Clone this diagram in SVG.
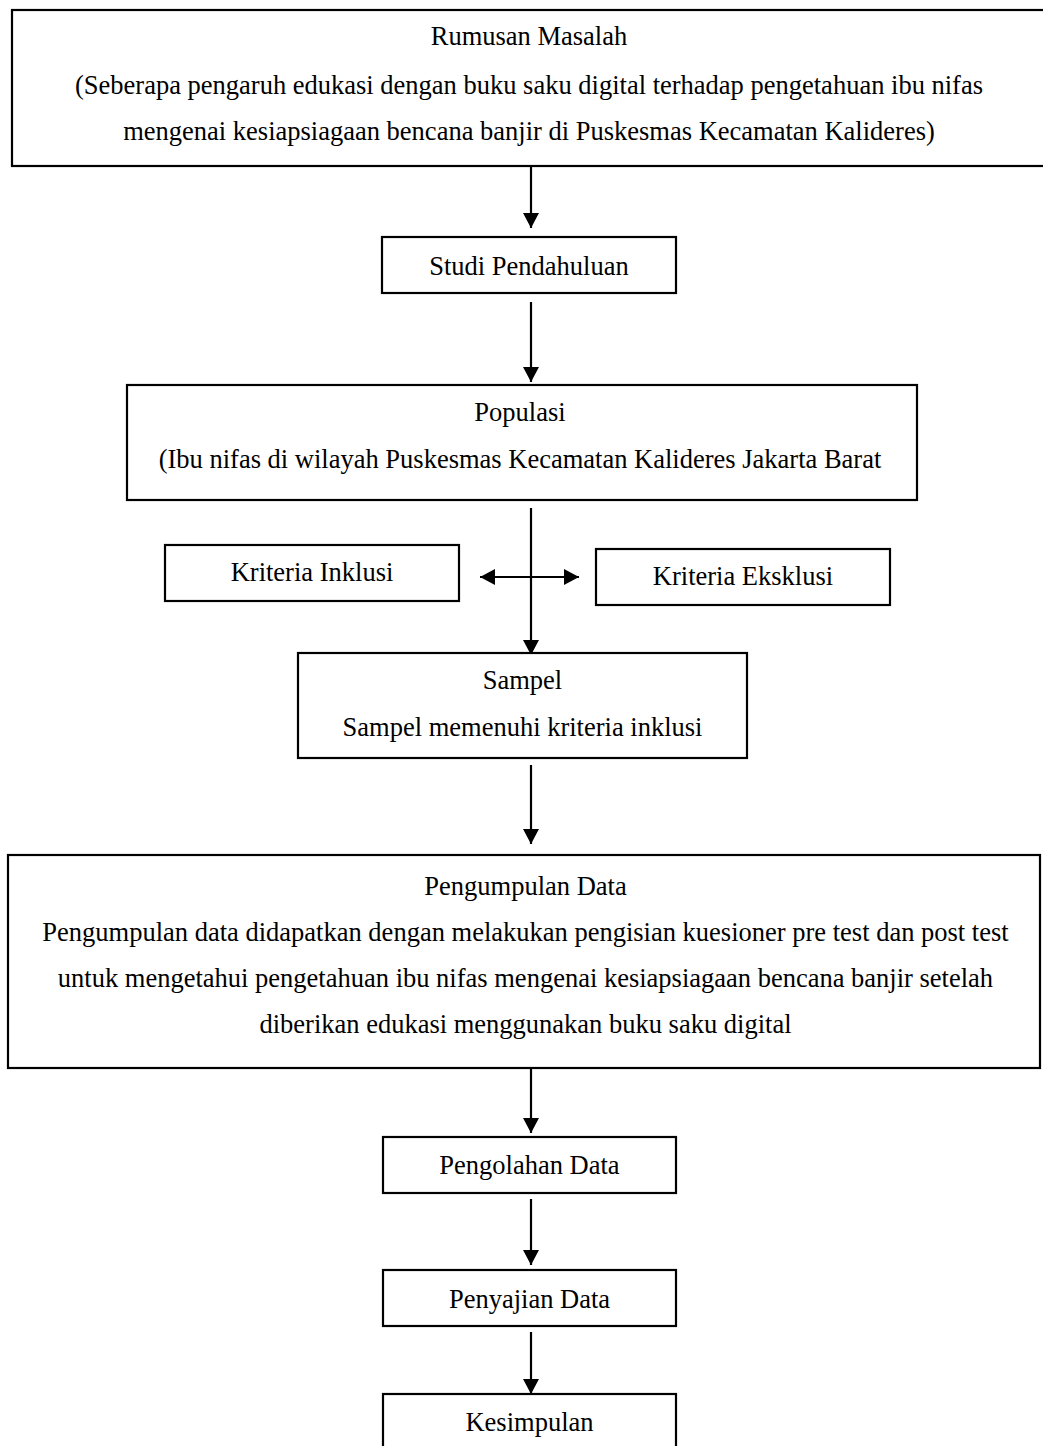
<svg xmlns="http://www.w3.org/2000/svg" width="1043" height="1446" viewBox="0 0 1043 1446">
<defs>
<style>
.box{fill:#fff;stroke:#000;stroke-width:2.2}
.t{font-family:"Liberation Serif","Times New Roman",serif;font-size:26.5px;fill:#000;text-anchor:middle}
.ln{stroke:#000;stroke-width:2.2;fill:none}
</style>
<marker id="ah" markerUnits="userSpaceOnUse" markerWidth="16" markerHeight="16" refX="15" refY="8" orient="auto-start-reverse" viewBox="0 0 16 16">
<path d="M0,0 L15,8 L0,16 Z" fill="#000"/>
</marker>
</defs>
<rect width="1043" height="1446" fill="#fff"/>
<g id="connectors">
<line class="ln" x1="531" y1="167" x2="531" y2="228" marker-end="url(#ah)"/>
<line class="ln" x1="531" y1="302" x2="531" y2="382" marker-end="url(#ah)"/>
<line class="ln" x1="531" y1="508" x2="531" y2="655" marker-end="url(#ah)"/>
<line class="ln" x1="480" y1="577" x2="579" y2="577" marker-start="url(#ah)" marker-end="url(#ah)"/>
<line class="ln" x1="531" y1="765" x2="531" y2="844" marker-end="url(#ah)"/>
<line class="ln" x1="531" y1="1068" x2="531" y2="1133" marker-end="url(#ah)"/>
<line class="ln" x1="531" y1="1199" x2="531" y2="1265" marker-end="url(#ah)"/>
<line class="ln" x1="531" y1="1332" x2="531" y2="1394" marker-end="url(#ah)"/>
</g>
<g id="rumusan">
<rect class="box" x="12" y="10" width="1040" height="156"/>
<text class="t" x="529" y="45">Rumusan Masalah</text>
<text class="t" x="529" y="94">(Seberapa pengaruh edukasi dengan buku saku digital terhadap pengetahuan ibu nifas</text>
<text class="t" x="529" y="140">mengenai kesiapsiagaan bencana banjir di Puskesmas Kecamatan Kalideres)</text>
</g>
<g id="studi">
<rect class="box" x="382" y="237" width="294" height="56"/>
<text class="t" x="529" y="275">Studi Pendahuluan</text>
</g>
<g id="populasi">
<rect class="box" x="127" y="385" width="790" height="115"/>
<text class="t" x="520" y="421">Populasi</text>
<text class="t" x="520" y="468">(Ibu nifas di wilayah Puskesmas Kecamatan Kalideres Jakarta Barat</text>
</g>
<g id="inklusi">
<rect class="box" x="165" y="545" width="294" height="56"/>
<text class="t" x="312" y="581">Kriteria Inklusi</text>
</g>
<g id="eksklusi">
<rect class="box" x="596" y="549" width="294" height="56"/>
<text class="t" x="743" y="585">Kriteria Eksklusi</text>
</g>
<g id="sampel">
<rect class="box" x="298" y="653" width="449" height="105"/>
<text class="t" x="522.5" y="689">Sampel</text>
<text class="t" x="522.5" y="736">Sampel memenuhi kriteria inklusi</text>
</g>
<g id="pengumpulan">
<rect class="box" x="8" y="855" width="1032" height="213"/>
<text class="t" x="525.5" y="895">Pengumpulan Data</text>
<text class="t" x="525.5" y="941">Pengumpulan data didapatkan dengan melakukan pengisian kuesioner pre test dan post test</text>
<text class="t" x="525.5" y="987">untuk mengetahui pengetahuan ibu nifas mengenai kesiapsiagaan bencana banjir setelah</text>
<text class="t" x="525.5" y="1033">diberikan edukasi menggunakan buku saku digital</text>
</g>
<g id="pengolahan">
<rect class="box" x="383" y="1137" width="293" height="56"/>
<text class="t" x="529.5" y="1174">Pengolahan Data</text>
</g>
<g id="penyajian">
<rect class="box" x="383" y="1270" width="293" height="56"/>
<text class="t" x="529.5" y="1308">Penyajian Data</text>
</g>
<g id="kesimpulan">
<rect class="box" x="383" y="1394" width="293" height="60"/>
<text class="t" x="529.5" y="1431">Kesimpulan</text>
</g>
</svg>
